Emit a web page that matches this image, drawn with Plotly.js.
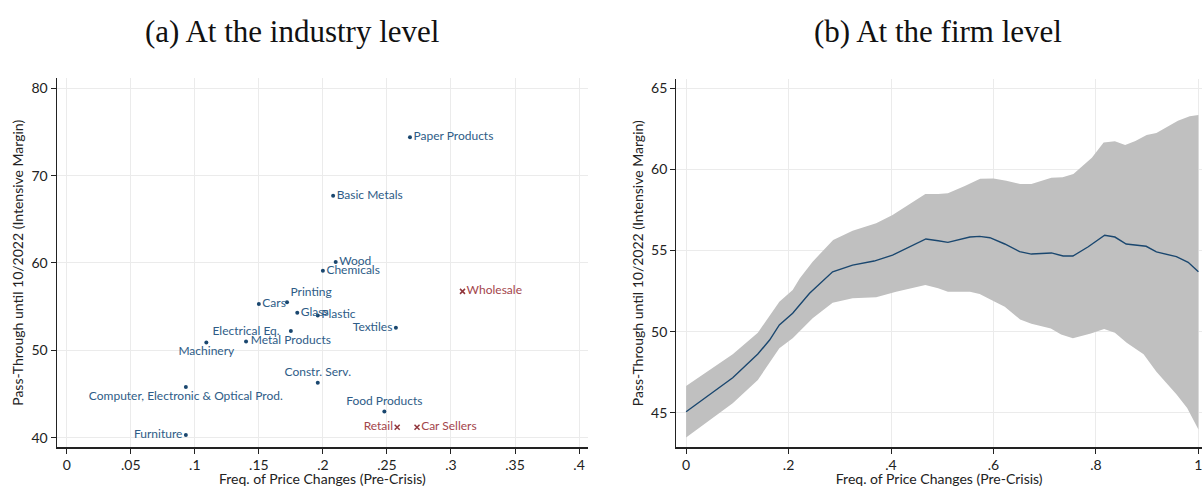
<!DOCTYPE html>
<html>
<head>
<meta charset="utf-8">
<script src="https://cdn.plot.ly/plotly-3.0.1.min.js"></script>
<style>html,body{margin:0;padding:0;background:#fff}#chart{width:1202px;height:487px}</style>
</head>
<body>
<div id="chart"></div>
<script>
// ---------- Panel (a): industry level ----------
var industries = ["Paper Products","Basic Metals","Wood","Chemicals","Printing","Cars","Glass","Plastic","Textiles","Metal Products","Electrical Eq.","Machinery","Constr. Serv.","Computer, Electronic & Optical Prod.","Food Products","Furniture"];
var indFreq = [0.268,0.208,0.210,0.200,0.172,0.150,0.180,0.196,0.257,0.175,0.140,0.109,0.196,0.093,0.248,0.093];
var indPass = [74.4,67.7,60.1,59.1,55.5,55.3,54.3,54.0,52.6,52.2,51.0,50.9,46.3,45.8,43.0,40.3];

var traders = ["Wholesale","Retail","Car Sellers"];
var tradeFreq = [0.309,0.258,0.2735];
var tradePass = [56.75,41.2,41.2];

var xTicksA = [0,0.05,0.1,0.15,0.2,0.25,0.3,0.35,0.4];
var xTickTextA = ["0",".05",".1",".15",".2",".25",".3",".35",".4"];
var yTicksA = [40,50,60,70,80];

// ---------- Panel (b): firm level ----------
var lineX = [0,0.0455,0.091,0.14,0.163,0.182,0.208,0.241,0.286,0.325,0.367,0.403,0.449,0.468,0.492,0.511,0.554,0.573,0.593,0.622,0.651,0.674,0.713,0.736,0.755,0.785,0.817,0.837,0.859,0.898,0.918,0.957,0.980,1.0];
var lineY = [45.06,46.13,47.16,48.62,49.48,50.41,51.13,52.36,53.69,54.1,54.35,54.72,55.44,55.71,55.6,55.5,55.83,55.87,55.79,55.4,54.93,54.78,54.85,54.66,54.66,55.23,55.94,55.83,55.4,55.26,54.91,54.62,54.27,53.69];
var upperX = [0,0.0455,0.091,0.14,0.182,0.208,0.222,0.247,0.287,0.325,0.371,0.403,0.467,0.492,0.511,0.544,0.574,0.6,0.625,0.652,0.674,0.713,0.735,0.756,0.792,0.815,0.837,0.857,0.877,0.899,0.918,0.96,0.983,1.0];
var upperY = [46.65,47.63,48.6,49.93,51.84,52.56,53.29,54.31,55.65,56.22,56.68,57.19,58.48,58.48,58.53,58.98,59.42,59.43,59.3,59.1,59.1,59.49,59.51,59.72,60.72,61.65,61.74,61.5,61.75,62.12,62.24,63.0,63.28,63.35];
var lowerX = [0,0.0455,0.091,0.14,0.182,0.208,0.247,0.286,0.325,0.371,0.41,0.467,0.492,0.511,0.554,0.573,0.593,0.622,0.652,0.674,0.712,0.732,0.755,0.79,0.816,0.837,0.86,0.893,0.918,0.957,0.978,1.0];
var lowerY = [43.48,44.55,45.58,47.02,48.97,49.59,50.82,51.78,52.05,52.12,52.46,52.87,52.67,52.46,52.46,52.32,52.0,51.54,50.75,50.49,50.2,49.83,49.59,49.88,50.16,49.93,49.32,48.6,47.53,46.14,45.3,43.96];

var xTicksB = [0,0.2,0.4,0.6,0.8,1];
var xTickTextB = ["0",".2",".4",".6",".8","1"];
var yTicksB = [45,50,55,60,65];

// ---------- styling ----------
var NAVY = "#1a476f", NAVYTXT = "#2e5c87", MAROON = "#90353b", MAROONTXT = "#a3454b";
var SANS = "Lato, 'Noto Sans', sans-serif";
var SERIF = "'Liberation Serif', 'DejaVu Serif', serif";
var labelPos = {
  "Paper Products":"middle right","Basic Metals":"middle right","Wood":"middle right","Chemicals":"middle right",
  "Printing":"top right","Cars":"middle right","Glass":"middle right","Plastic":"middle right",
  "Textiles":"middle left","Metal Products":"bottom center","Electrical Eq.":"top center","Machinery":"bottom center",
  "Constr. Serv.":"top center","Computer, Electronic & Optical Prod.":"bottom center","Food Products":"top center","Furniture":"middle left",
  "Wholesale":"middle right","Retail":"middle left","Car Sellers":"middle right"
};

var bandX = upperX.concat(lowerX.slice().reverse());
var bandY = upperY.concat(lowerY.slice().reverse());

var traces = [
  {type:"scatter", mode:"markers+text", x:indFreq, y:indPass, text:industries,
   textposition: industries.map(function(n){return labelPos[n];}),
   textfont:{family:SANS, size:12, color:NAVYTXT},
   marker:{symbol:"circle", size:4, color:NAVY}, xaxis:"x", yaxis:"y", cliponaxis:false},
  {type:"scatter", mode:"markers+text", x:tradeFreq, y:tradePass, text:traders,
   textposition: traders.map(function(n){return labelPos[n];}),
   textfont:{family:SANS, size:12, color:MAROONTXT},
   marker:{symbol:"x-thin", size:5, color:MAROON, line:{color:MAROON, width:1.5}}, xaxis:"x", yaxis:"y", cliponaxis:false},
  {type:"scatter", mode:"lines", x:bandX, y:bandY, fill:"toself", fillcolor:"#c0c0c0",
   line:{width:0, color:"#c0c0c0"}, xaxis:"x2", yaxis:"y2", hoverinfo:"skip"},
  {type:"scatter", mode:"lines", x:lineX, y:lineY, line:{color:NAVY, width:1.4},
   xaxis:"x2", yaxis:"y2"}
];

function axisBase(){
  return {showgrid:true, gridcolor:"#ebebeb", gridwidth:1, zeroline:false,
    showline:true, linecolor:"#222", linewidth:1.2, ticks:"outside", ticklen:5, tickwidth:1, tickcolor:"#222",
    ticklabeloverflow:"allow",
    tickfont:{family:SANS, size:14, color:"#222"}, fixedrange:true};
}
var TF = {family:SANS, size:14, color:"#222"};
var xa = axisBase(); Object.assign(xa, {domain:[0.0472,0.4892], range:[-0.0078,0.407], tickmode:"array", tickvals:xTicksA, ticktext:xTickTextA,
  anchor:"y", title:{text:"Freq. of Price Changes (Pre-Crisis)", font:TF, standoff:1}});
var ya = axisBase(); Object.assign(ya, {domain:[0.0815,0.8392], range:[38.9,81.14], tickmode:"array", tickvals:yTicksA,
  anchor:"x", title:{text:"Pass-Through until 10/2022 (Intensive Margin)", font:TF, standoff:4}});
var xb = axisBase(); Object.assign(xb, {domain:[0.5627,1.0], range:[-0.019,1.007], tickmode:"array", tickvals:xTicksB, ticktext:xTickTextB,
  anchor:"y2", title:{text:"Freq. of Price Changes (Pre-Crisis)", font:TF, standoff:1}});
var yb = axisBase(); Object.assign(yb, {domain:[0.0815,0.8378], range:[42.87,65.57], tickmode:"array", tickvals:yTicksB,
  anchor:"x2", title:{text:"Pass-Through until 10/2022 (Intensive Margin)", font:TF, standoff:4}});

var layout = {
  width:1202, height:487, margin:{l:0, r:0, t:0, b:0}, showlegend:false,
  paper_bgcolor:"#fff", plot_bgcolor:"#fff",
  xaxis:xa, yaxis:ya, xaxis2:xb, yaxis2:yb,
  annotations:[
    {text:"(a) At the industry level", xref:"paper", yref:"paper", x:292/1202, y:1-32/487, xanchor:"center", yanchor:"middle",
     showarrow:false, font:{family:SERIF, size:31, color:"#111"}},
    {text:"(b) At the firm level", xref:"paper", yref:"paper", x:938/1202, y:1-32/487, xanchor:"center", yanchor:"middle",
     showarrow:false, font:{family:SERIF, size:31, color:"#111"}}
  ]
};
Plotly.newPlot("chart", traces, layout, {displayModeBar:false, staticPlot:true});
</script>
</body>
</html>
